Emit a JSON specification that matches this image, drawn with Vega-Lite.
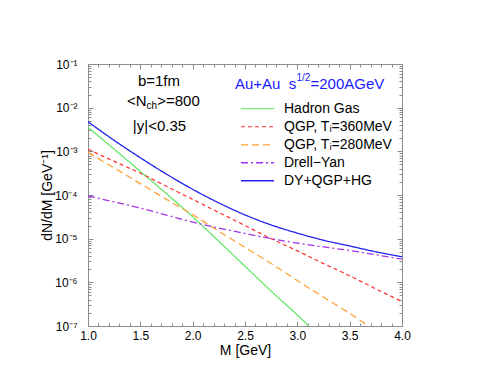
{
  "$schema": "https://vega.github.io/schema/vega-lite/v6.json",
  "width": 314,
  "height": 262,
  "autosize": {"type": "none"},
  "padding": {"left": 88, "top": 64, "right": 92, "bottom": 56},
  "background": "white",
  "config": {
    "view": {"stroke": "#8c8c8c", "strokeWidth": 1},
    "font": "Liberation Sans",
    "axis": {"domain": false, "grid": false, "tickColor": "#8c8c8c", "labelFont": "Liberation Sans", "titleFont": "Liberation Sans", "labelColor": "#000", "titleColor": "#000", "titleFontWeight": "normal"}
  },
  "resolve": {"axis": {"x": "independent", "y": "independent"}},
  "layer": [
    {
      "data": {"values": [
        {"M": 1.0, "v": 3.55e-3, "s": "Hadron Gas"},
        {"M": 1.25, "v": 1.12e-3, "s": "Hadron Gas"},
        {"M": 1.5, "v": 3.47e-4, "s": "Hadron Gas"},
        {"M": 1.75, "v": 1.07e-4, "s": "Hadron Gas"},
        {"M": 2.0, "v": 3.16e-5, "s": "Hadron Gas"},
        {"M": 2.25, "v": 8.7e-6, "s": "Hadron Gas"},
        {"M": 2.5, "v": 2.34e-6, "s": "Hadron Gas"},
        {"M": 2.75, "v": 6.3e-7, "s": "Hadron Gas"},
        {"M": 3.0, "v": 1.78e-7, "s": "Hadron Gas"},
        {"M": 3.11, "v": 1.0e-7, "s": "Hadron Gas"},
        {"M": 1.0, "v": 1.12e-3, "s": "QGP, Tᵢ=360MeV"},
        {"M": 1.25, "v": 5.89e-4, "s": "QGP, Tᵢ=360MeV"},
        {"M": 1.5, "v": 3.16e-4, "s": "QGP, Tᵢ=360MeV"},
        {"M": 1.75, "v": 1.58e-4, "s": "QGP, Tᵢ=360MeV"},
        {"M": 2.0, "v": 7.94e-5, "s": "QGP, Tᵢ=360MeV"},
        {"M": 2.25, "v": 3.98e-5, "s": "QGP, Tᵢ=360MeV"},
        {"M": 2.5, "v": 2.0e-5, "s": "QGP, Tᵢ=360MeV"},
        {"M": 2.75, "v": 1.0e-5, "s": "QGP, Tᵢ=360MeV"},
        {"M": 3.0, "v": 5.25e-6, "s": "QGP, Tᵢ=360MeV"},
        {"M": 3.25, "v": 2.69e-6, "s": "QGP, Tᵢ=360MeV"},
        {"M": 3.5, "v": 1.41e-6, "s": "QGP, Tᵢ=360MeV"},
        {"M": 3.75, "v": 7.08e-7, "s": "QGP, Tᵢ=360MeV"},
        {"M": 4.0, "v": 3.63e-7, "s": "QGP, Tᵢ=360MeV"},
        {"M": 1.0, "v": 9.33e-4, "s": "QGP, Tᵢ=280MeV"},
        {"M": 1.25, "v": 4.17e-4, "s": "QGP, Tᵢ=280MeV"},
        {"M": 1.5, "v": 1.82e-4, "s": "QGP, Tᵢ=280MeV"},
        {"M": 1.75, "v": 7.94e-5, "s": "QGP, Tᵢ=280MeV"},
        {"M": 2.0, "v": 3.55e-5, "s": "QGP, Tᵢ=280MeV"},
        {"M": 2.25, "v": 1.48e-5, "s": "QGP, Tᵢ=280MeV"},
        {"M": 2.5, "v": 6.31e-6, "s": "QGP, Tᵢ=280MeV"},
        {"M": 2.75, "v": 2.69e-6, "s": "QGP, Tᵢ=280MeV"},
        {"M": 3.0, "v": 1.10e-6, "s": "QGP, Tᵢ=280MeV"},
        {"M": 3.25, "v": 4.57e-7, "s": "QGP, Tᵢ=280MeV"},
        {"M": 3.5, "v": 1.95e-7, "s": "QGP, Tᵢ=280MeV"},
        {"M": 3.68, "v": 1.0e-7, "s": "QGP, Tᵢ=280MeV"},
        {"M": 1.0, "v": 9.55e-5, "s": "Drell−Yan"},
        {"M": 1.25, "v": 6.92e-5, "s": "Drell−Yan"},
        {"M": 1.5, "v": 5.01e-5, "s": "Drell−Yan"},
        {"M": 1.75, "v": 3.47e-5, "s": "Drell−Yan"},
        {"M": 2.0, "v": 2.4e-5, "s": "Drell−Yan"},
        {"M": 2.25, "v": 1.74e-5, "s": "Drell−Yan"},
        {"M": 2.5, "v": 1.32e-5, "s": "Drell−Yan"},
        {"M": 2.75, "v": 1.0e-5, "s": "Drell−Yan"},
        {"M": 3.0, "v": 7.94e-6, "s": "Drell−Yan"},
        {"M": 3.25, "v": 6.46e-6, "s": "Drell−Yan"},
        {"M": 3.5, "v": 5.37e-6, "s": "Drell−Yan"},
        {"M": 3.75, "v": 4.27e-6, "s": "Drell−Yan"},
        {"M": 4.0, "v": 3.39e-6, "s": "Drell−Yan"},
        {"M": 1.0, "v": 4.77e-3, "s": "DY+QGP+HG"},
        {"M": 1.25, "v": 1.78e-3, "s": "DY+QGP+HG"},
        {"M": 1.5, "v": 7.13e-4, "s": "DY+QGP+HG"},
        {"M": 1.75, "v": 3.0e-4, "s": "DY+QGP+HG"},
        {"M": 2.0, "v": 1.35e-4, "s": "DY+QGP+HG"},
        {"M": 2.25, "v": 6.59e-5, "s": "DY+QGP+HG"},
        {"M": 2.5, "v": 3.5e-5, "s": "DY+QGP+HG"},
        {"M": 2.75, "v": 2.06e-5, "s": "DY+QGP+HG"},
        {"M": 3.0, "v": 1.34e-5, "s": "DY+QGP+HG"},
        {"M": 3.25, "v": 9.2e-6, "s": "DY+QGP+HG"},
        {"M": 3.5, "v": 6.8e-6, "s": "DY+QGP+HG"},
        {"M": 3.75, "v": 5.0e-6, "s": "DY+QGP+HG"},
        {"M": 4.0, "v": 3.85e-6, "s": "DY+QGP+HG"}
      ]},
      "mark": {"type": "line", "interpolate": "monotone", "clip": true},
      "encoding": {
        "x": {"field": "M", "type": "quantitative",
          "scale": {"domain": [1, 4], "nice": false, "zero": false},
          "axis": {"orient": "bottom", "title": "M [GeV]", "titleFontSize": 14, "titlePadding": 0,
            "values": [1,1.1,1.2,1.3,1.4,1.5,1.6,1.7,1.8,1.9,2,2.1,2.2,2.3,2.4,2.5,2.6,2.7,2.8,2.9,3,3.1,3.2,3.3,3.4,3.5,3.6,3.7,3.8,3.9,4],
            "labelExpr": "abs(datum.value*2 - round(datum.value*2)) < 0.01 ? format(datum.value, '.1f') : ''",
            "tickSize": {"condition": {"test": "abs(datum.value*2 - round(datum.value*2)) < 0.01", "value": -5}, "value": -3},
            "labelFontSize": 12, "labelPadding": 9, "labelFlush": false, "labelOverlap": false}},
        "y": {"field": "v", "type": "quantitative",
          "scale": {"type": "log", "domain": [1e-7, 0.1], "nice": false},
          "axis": {"orient": "left", "title": "dN/dM [GeV⁻¹]", "titleFontSize": 14, "titlePadding": 0,
            "values": [1e-7,2e-7,3e-7,4e-7,5e-7,6e-7,7e-7,8e-7,9e-7,1e-6,2e-6,3e-6,4e-6,5e-6,6e-6,7e-6,8e-6,9e-6,1e-5,2e-5,3e-5,4e-5,5e-5,6e-5,7e-5,8e-5,9e-5,1e-4,2e-4,3e-4,4e-4,5e-4,6e-4,7e-4,8e-4,9e-4,1e-3,2e-3,3e-3,4e-3,5e-3,6e-3,7e-3,8e-3,9e-3,1e-2,2e-2,3e-2,4e-2,5e-2,6e-2,7e-2,8e-2,9e-2,1e-1],
            "labelExpr": "abs(log(datum.value)/LN10 - round(log(datum.value)/LN10)) < 0.01 ? '10' + ['','⁻¹','⁻²','⁻³','⁻⁴','⁻⁵','⁻⁶','⁻⁷'][-round(log(datum.value)/LN10)] : ''",
            "tickSize": {"condition": {"test": "abs(log(datum.value)/LN10 - round(log(datum.value)/LN10)) < 0.01", "value": -5}, "value": -3},
            "labelFontSize": 12, "labelPadding": 16, "labelFlush": false, "labelOverlap": false}},
        "color": {"field": "s", "type": "nominal",
          "scale": {"domain": ["Hadron Gas", "QGP, Tᵢ=360MeV", "QGP, Tᵢ=280MeV", "Drell−Yan", "DY+QGP+HG"],
                    "range": ["#5ee65e", "#ff3333", "#ffa033", "#a333e8", "#2222ee"]},
          "legend": {"orient": "none", "legendX": 152, "legendY": 36, "title": null, "labelFontSize": 14, "labelFont": "Liberation Sans",
                     "symbolType": "stroke", "symbolSize": 1089, "symbolStrokeWidth": 1.5, "clipHeight": 17.5, "rowPadding": 0, "labelOffset": 9, "padding": 0}},
        "strokeDash": {"field": "s", "type": "nominal",
          "scale": {"domain": ["Hadron Gas", "QGP, Tᵢ=360MeV", "QGP, Tᵢ=280MeV", "Drell−Yan", "DY+QGP+HG"],
                    "range": [[1, 0], [4, 3], [7, 4], [7, 3, 2, 3], [1, 0]]},
          "legend": {"orient": "none", "legendX": 152, "legendY": 36, "title": null, "labelFontSize": 14, "labelFont": "Liberation Sans",
                     "symbolType": "stroke", "symbolSize": 1089, "symbolStrokeWidth": 1.5, "clipHeight": 17.5, "rowPadding": 0, "labelOffset": 9, "padding": 0}},
        "strokeWidth": {"field": "s", "type": "nominal",
          "scale": {"domain": ["Hadron Gas", "QGP, Tᵢ=360MeV", "QGP, Tᵢ=280MeV", "Drell−Yan", "DY+QGP+HG"],
                    "range": [1.2, 1.3, 1.3, 1.4, 1.6]},
          "legend": null}
      }
    },
    {
      "data": {"values": [{}]},
      "mark": {"type": "text", "text": "b=1fm", "align": "center", "baseline": "middle", "fontSize": 15, "font": "Liberation Sans", "color": "#000"},
      "encoding": {
        "x": {"datum": 1.678, "type": "quantitative",
          "axis": {"orient": "top", "title": null, "labels": false,
            "values": [1,1.1,1.2,1.3,1.4,1.5,1.6,1.7,1.8,1.9,2,2.1,2.2,2.3,2.4,2.5,2.6,2.7,2.8,2.9,3,3.1,3.2,3.3,3.4,3.5,3.6,3.7,3.8,3.9,4],
            "tickSize": {"condition": {"test": "abs(datum.value*2 - round(datum.value*2)) < 0.01", "value": -5}, "value": -3}}},
        "y": {"datum": 0.041, "type": "quantitative",
          "axis": {"orient": "right", "title": null, "labels": false,
            "values": [1e-7,2e-7,3e-7,4e-7,5e-7,6e-7,7e-7,8e-7,9e-7,1e-6,2e-6,3e-6,4e-6,5e-6,6e-6,7e-6,8e-6,9e-6,1e-5,2e-5,3e-5,4e-5,5e-5,6e-5,7e-5,8e-5,9e-5,1e-4,2e-4,3e-4,4e-4,5e-4,6e-4,7e-4,8e-4,9e-4,1e-3,2e-3,3e-3,4e-3,5e-3,6e-3,7e-3,8e-3,9e-3,1e-2,2e-2,3e-2,4e-2,5e-2,6e-2,7e-2,8e-2,9e-2,1e-1],
            "tickSize": {"condition": {"test": "abs(log(datum.value)/LN10 - round(log(datum.value)/LN10)) < 0.01", "value": -5}, "value": -3}}}
      }
    },
    {
      "data": {"values": [{}]},
      "mark": {"type": "text", "text": "|y|<0.35", "align": "center", "baseline": "middle", "fontSize": 15, "font": "Liberation Sans", "color": "#000"},
      "encoding": {"x": {"datum": 1.683, "type": "quantitative", "axis": null}, "y": {"datum": 0.0038, "type": "quantitative", "axis": null}}
    },
    {
      "data": {"values": [{}]},
      "mark": {"type": "text", "text": "<N", "align": "left", "baseline": "middle", "fontSize": 15, "font": "Liberation Sans", "color": "#000"},
      "encoding": {"x": {"datum": 1.3726, "type": "quantitative", "axis": null}, "y": {"datum": 0.01459, "type": "quantitative", "axis": null}}
    },
    {
      "data": {"values": [{}]},
      "mark": {"type": "text", "text": "ch", "align": "left", "baseline": "middle", "fontSize": 10, "dx": 19.6, "dy": 5, "font": "Liberation Sans", "color": "#000"},
      "encoding": {"x": {"datum": 1.3726, "type": "quantitative", "axis": null}, "y": {"datum": 0.01459, "type": "quantitative", "axis": null}}
    },
    {
      "data": {"values": [{}]},
      "mark": {"type": "text", "text": ">=800", "align": "left", "baseline": "middle", "fontSize": 15, "dx": 30.2, "font": "Liberation Sans", "color": "#000"},
      "encoding": {"x": {"datum": 1.3726, "type": "quantitative", "axis": null}, "y": {"datum": 0.01459, "type": "quantitative", "axis": null}}
    },
    {
      "data": {"values": [{}]},
      "mark": {"type": "text", "text": "Au+Au\u00a0 s", "align": "left", "baseline": "middle", "fontSize": 15, "font": "Liberation Sans", "color": "#1a1aff"},
      "encoding": {"x": {"datum": 2.404, "type": "quantitative", "axis": null}, "y": {"datum": 0.0348, "type": "quantitative", "axis": null}}
    },
    {
      "data": {"values": [{}]},
      "mark": {"type": "text", "text": "1/2", "align": "left", "baseline": "middle", "fontSize": 10, "dx": 61.5, "dy": -6, "font": "Liberation Sans", "color": "#1a1aff"},
      "encoding": {"x": {"datum": 2.404, "type": "quantitative", "axis": null}, "y": {"datum": 0.0348, "type": "quantitative", "axis": null}}
    },
    {
      "data": {"values": [{}]},
      "mark": {"type": "text", "text": "=200AGeV", "align": "left", "baseline": "middle", "fontSize": 15, "dx": 75.5, "font": "Liberation Sans", "color": "#1a1aff"},
      "encoding": {"x": {"datum": 2.404, "type": "quantitative", "axis": null}, "y": {"datum": 0.0348, "type": "quantitative", "axis": null}}
    }
  ]
}
